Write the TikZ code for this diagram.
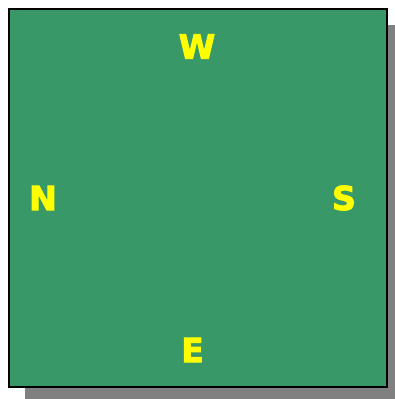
\documentclass[tikz,border=0pt]{standalone}
\usepackage{fontspec}
\newfontfamily\lblfont{DejaVu Sans}[BoldFeatures={FakeBold=3}]
\definecolor{boxgreen}{RGB}{57,152,104}
\definecolor{shadowgray}{RGB}{128,128,128}
\definecolor{lblyellow}{RGB}{255,255,0}
\begin{document}
\begin{tikzpicture}[x=1pt,y=-1pt,
  lbl/.style={text=lblyellow,font=\lblfont\bfseries\fontsize{33}{33}\selectfont,inner sep=0pt,anchor=center}]
\useasboundingbox (0,0) rectangle (395,399);
\fill[shadowgray] (25,25) rectangle (403,403);
\draw[fill=boxgreen,line width=2pt] (9,9) rectangle (387,387);
\node[lbl] (w) at (197,46.5) {W};
\node[lbl] (n) at (43,198) {N};
\node[lbl] (s) at (344,198) {S};
\node[lbl] (e) at (192.5,350) {E};
\end{tikzpicture}
\end{document}
